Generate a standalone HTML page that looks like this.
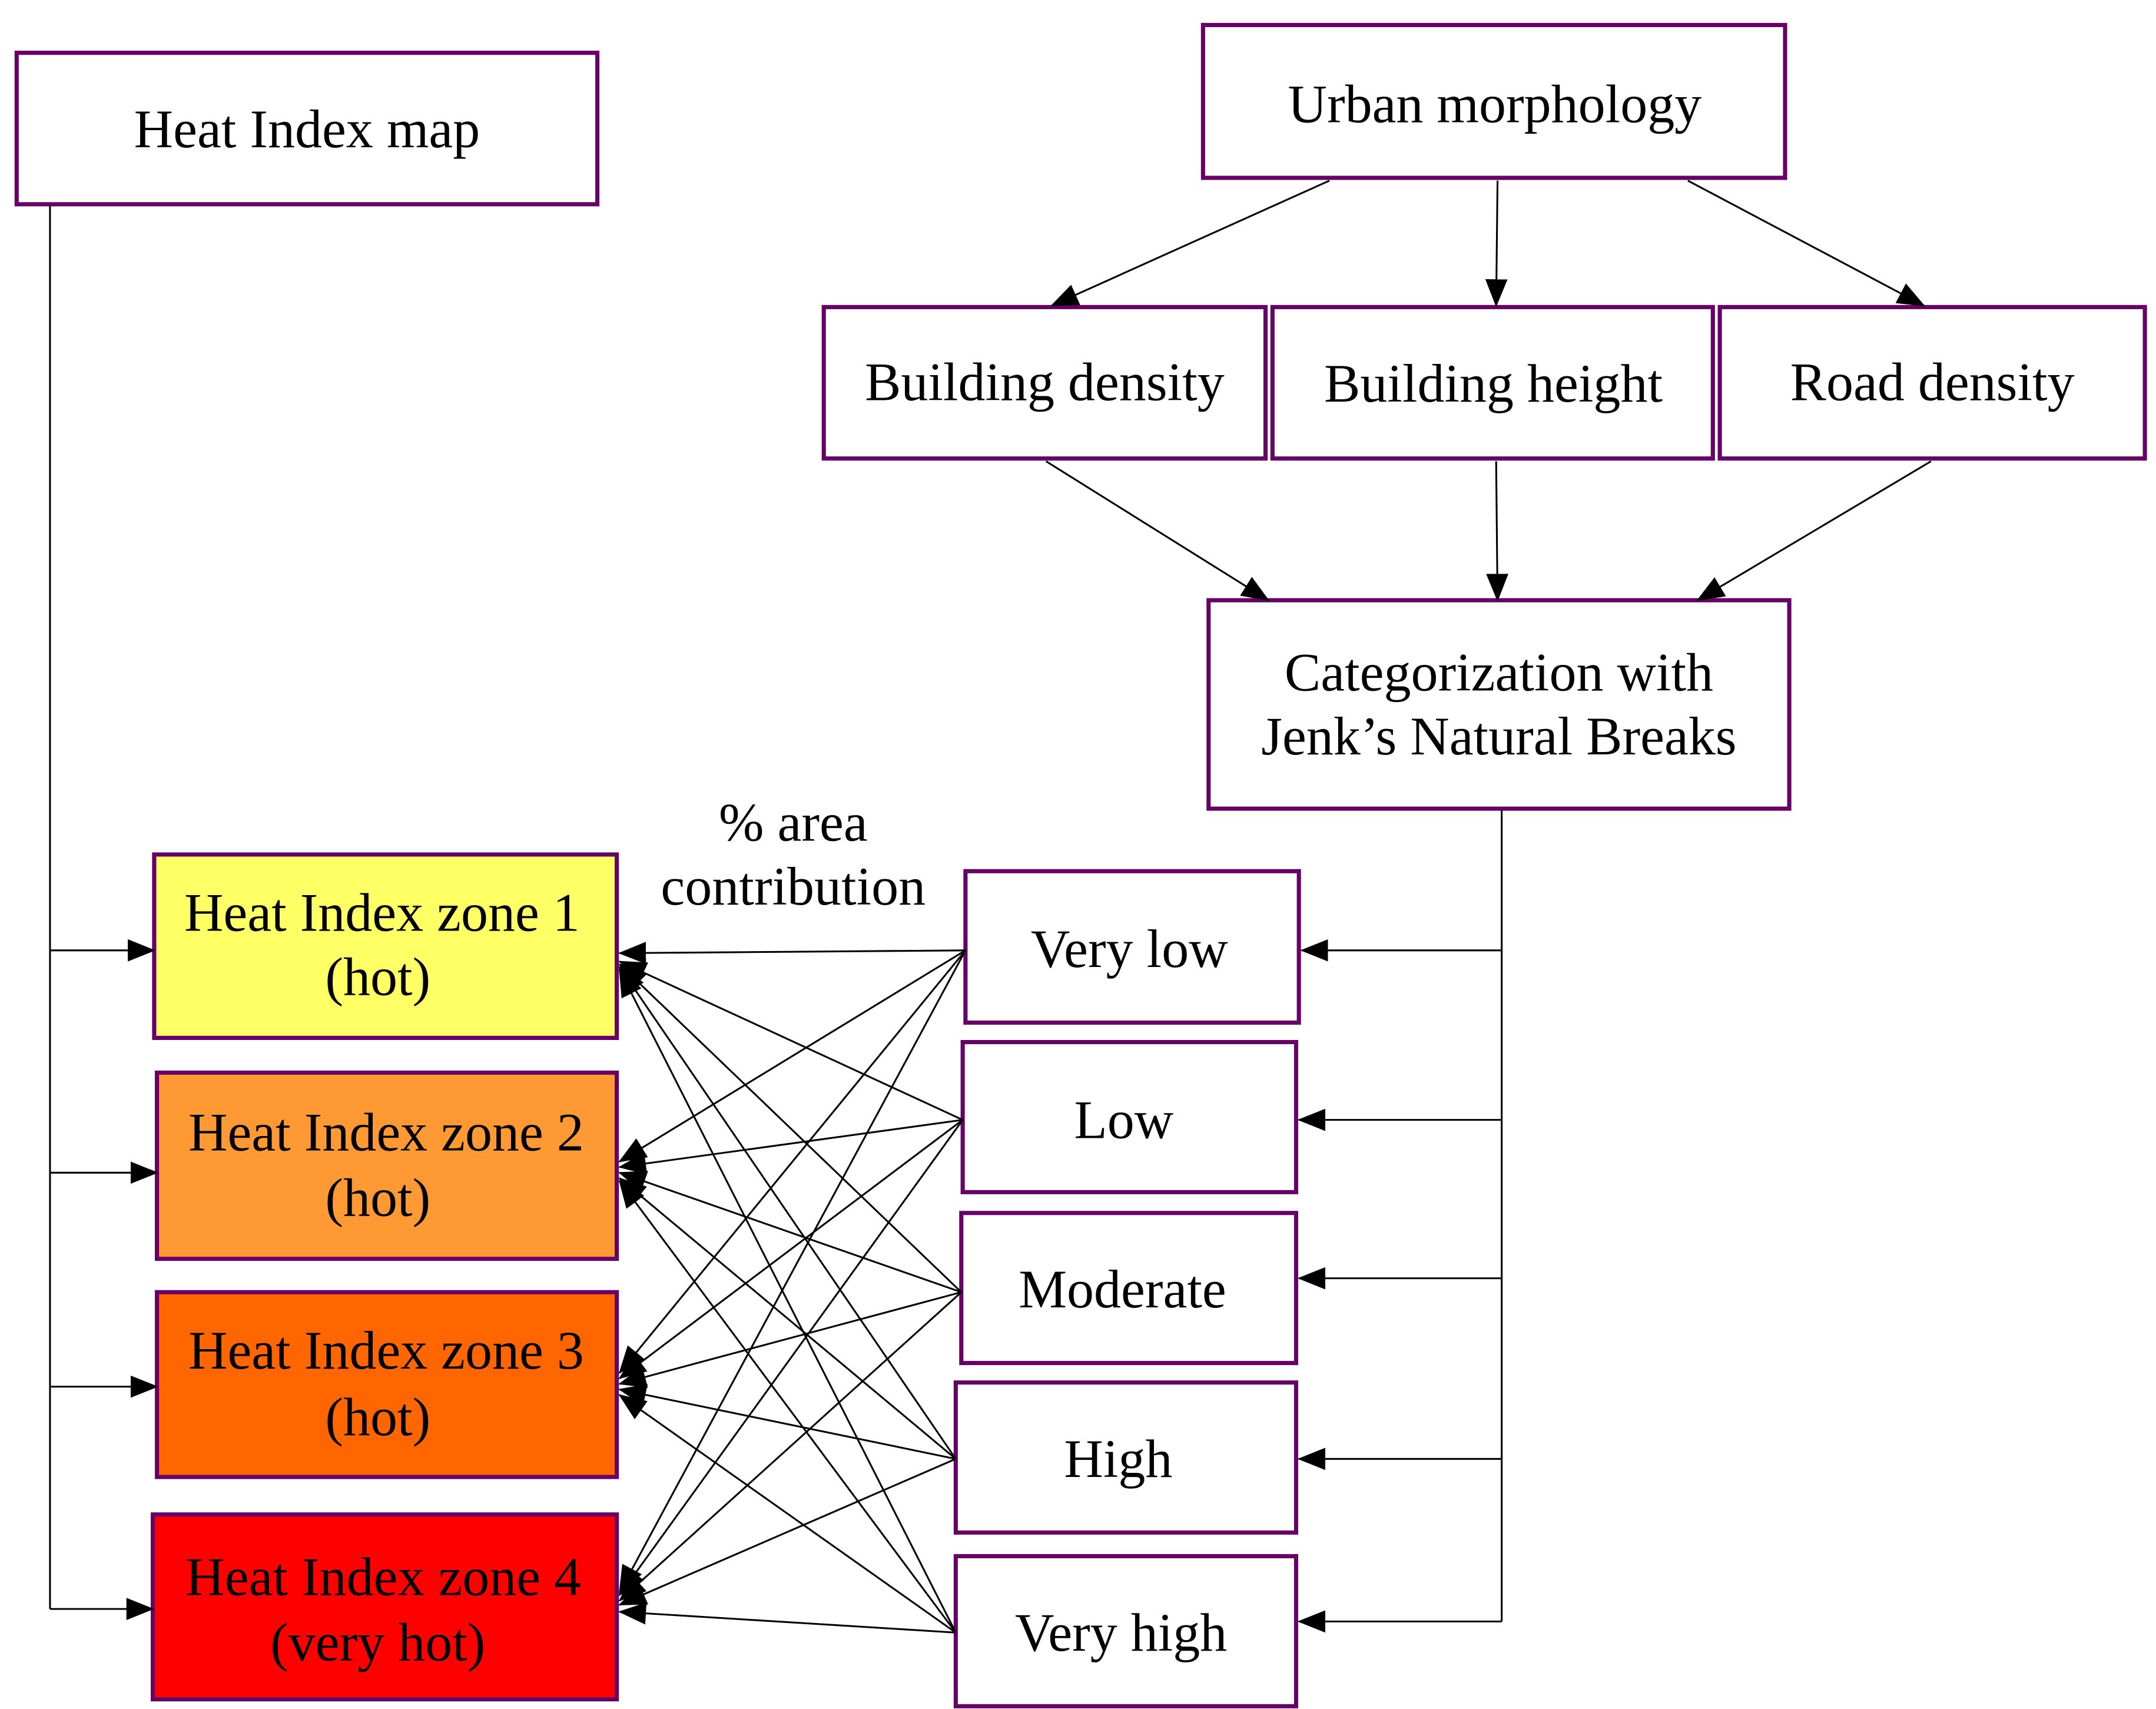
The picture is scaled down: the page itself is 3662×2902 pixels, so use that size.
<!DOCTYPE html>
<html><head><meta charset="utf-8"><style>html,body{margin:0;padding:0;background:#fff}svg{display:block}</style></head><body>
<svg width="3662" height="2902" viewBox="0 0 1552 1230" preserveAspectRatio="none" xmlns="http://www.w3.org/2000/svg" font-family="'Liberation Serif', serif" font-size="39" text-anchor="middle">
<defs>
<marker id="a" viewBox="0 0 20 16" refX="19" refY="8" markerWidth="20" markerHeight="16" markerUnits="userSpaceOnUse" orient="auto"><path d="M0 0 L20 8 L0 16 Z" fill="#000"/></marker>
</defs>
<g stroke="#660066" stroke-width="3">
<rect x="12" y="38" width="418" height="109" fill="#fff"/>
<rect x="866" y="18" width="419" height="110" fill="#fff"/>
<rect x="593" y="221" width="318" height="109" fill="#fff"/>
<rect x="916" y="221" width="317" height="109" fill="#fff"/>
<rect x="1238" y="221" width="306" height="109" fill="#fff"/>
<rect x="870" y="432" width="418" height="150" fill="#fff"/>
<rect x="111" y="615" width="333" height="132" fill="#FFFF66"/>
<rect x="113" y="772" width="331" height="134" fill="#FF9933"/>
<rect x="113" y="930" width="331" height="133" fill="#FF6600"/>
<rect x="110" y="1090" width="334" height="133" fill="#FF0000"/>
<rect x="695" y="627" width="240" height="109" fill="#fff"/>
<rect x="693" y="750" width="240" height="108" fill="#fff"/>
<rect x="692" y="873" width="241" height="108" fill="#fff"/>
<rect x="688" y="995" width="245" height="108" fill="#fff"/>
<rect x="688" y="1120" width="245" height="108" fill="#fff"/>
</g>
<g stroke="#000" stroke-width="1.3" fill="none">
<line x1="957" y1="130" x2="757" y2="220" marker-end="url(#a)"/>
<line x1="1078" y1="130" x2="1077" y2="220" marker-end="url(#a)"/>
<line x1="1215" y1="130" x2="1385" y2="220" marker-end="url(#a)"/>
<line x1="753" y1="332" x2="913" y2="432" marker-end="url(#a)"/>
<line x1="1077" y1="332" x2="1078" y2="432" marker-end="url(#a)"/>
<line x1="1390" y1="332" x2="1222" y2="432" marker-end="url(#a)"/>
<polyline points="1081,583 1081,1167"/>
<line x1="1081" y1="684" x2="937" y2="684" marker-end="url(#a)"/>
<line x1="1081" y1="806" x2="935" y2="806" marker-end="url(#a)"/>
<line x1="1081" y1="920" x2="935" y2="920" marker-end="url(#a)"/>
<line x1="1081" y1="1050" x2="935" y2="1050" marker-end="url(#a)"/>
<line x1="1081" y1="1167" x2="935" y2="1167" marker-end="url(#a)"/>
<polyline points="36,148 36,1158"/>
<line x1="36" y1="684" x2="111" y2="684" marker-end="url(#a)"/>
<line x1="36" y1="844" x2="113" y2="844" marker-end="url(#a)"/>
<line x1="36" y1="998" x2="113" y2="998" marker-end="url(#a)"/>
<line x1="36" y1="1158" x2="110" y2="1158" marker-end="url(#a)"/>
</g>
<g stroke="#000" stroke-width="1.3" fill="none">
<line x1="695" y1="684" x2="446" y2="686" marker-end="url(#a)"/>
<line x1="693" y1="806" x2="446" y2="692" marker-end="url(#a)"/>
<line x1="692" y1="930" x2="446" y2="694" marker-end="url(#a)"/>
<line x1="688" y1="1050" x2="446" y2="696" marker-end="url(#a)"/>
<line x1="688" y1="1175" x2="446" y2="698" marker-end="url(#a)"/>
<line x1="695" y1="684" x2="446" y2="836" marker-end="url(#a)"/>
<line x1="693" y1="806" x2="446" y2="840" marker-end="url(#a)"/>
<line x1="692" y1="930" x2="446" y2="844" marker-end="url(#a)"/>
<line x1="688" y1="1050" x2="446" y2="848" marker-end="url(#a)"/>
<line x1="688" y1="1175" x2="446" y2="850" marker-end="url(#a)"/>
<line x1="695" y1="684" x2="446" y2="988" marker-end="url(#a)"/>
<line x1="693" y1="806" x2="446" y2="992" marker-end="url(#a)"/>
<line x1="692" y1="930" x2="446" y2="996" marker-end="url(#a)"/>
<line x1="688" y1="1050" x2="446" y2="1000" marker-end="url(#a)"/>
<line x1="688" y1="1175" x2="446" y2="1004" marker-end="url(#a)"/>
<line x1="695" y1="684" x2="446" y2="1146" marker-end="url(#a)"/>
<line x1="693" y1="806" x2="446" y2="1148" marker-end="url(#a)"/>
<line x1="692" y1="930" x2="446" y2="1152" marker-end="url(#a)"/>
<line x1="688" y1="1050" x2="446" y2="1155" marker-end="url(#a)"/>
<line x1="688" y1="1175" x2="446" y2="1160" marker-end="url(#a)"/>
</g>
<g fill="#000">
<text x="221" y="106">Heat Index map</text>
<text x="1076" y="88">Urban morphology</text>
<text x="752" y="288">Building density</text>
<text x="1075" y="289">Building height</text>
<text x="1391" y="288">Road density</text>
<text x="1079" y="497">Categorization with</text>
<text x="1079" y="543">Jenk’s Natural Breaks</text>
<text x="571" y="605">% area</text>
<text x="571" y="651">contribution</text>
<text x="275" y="670">Heat Index zone 1</text>
<text x="272" y="716">(hot)</text>
<text x="278" y="828">Heat Index zone 2</text>
<text x="272" y="875">(hot)</text>
<text x="278" y="985">Heat Index zone 3</text>
<text x="272" y="1033">(hot)</text>
<text x="276" y="1148">Heat Index zone 4</text>
<text x="272" y="1195">(very hot)</text>
<text x="813" y="696">Very low</text>
<text x="809" y="819">Low</text>
<text x="808" y="941">Moderate</text>
<text x="805" y="1063">High</text>
<text x="807" y="1188">Very high</text>
</g>
</svg>
</body></html>
